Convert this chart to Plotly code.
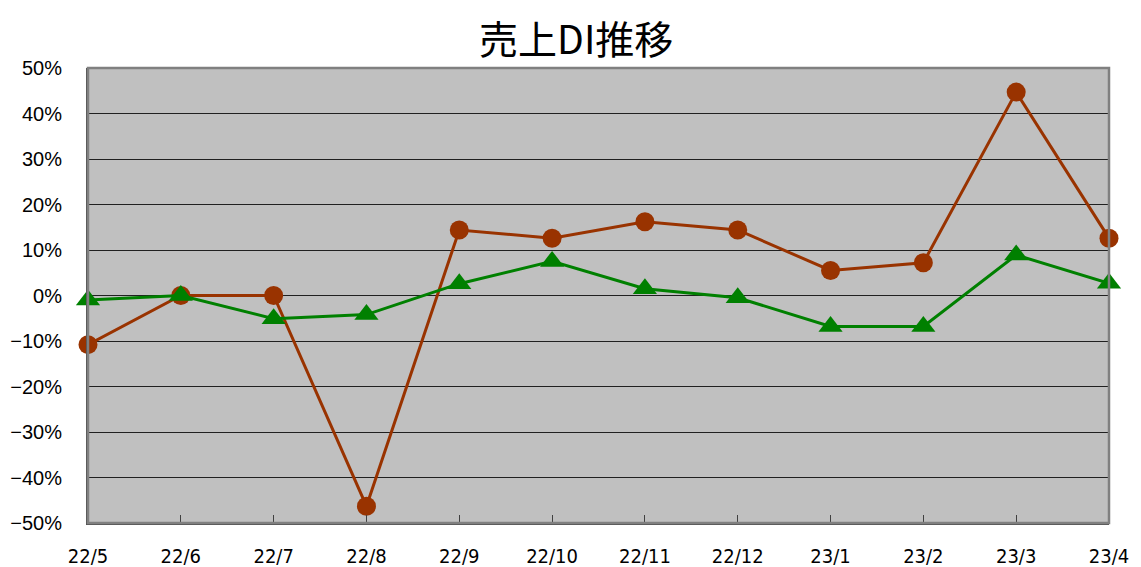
import plotly.graph_objects as go

categories = ["22/5", "22/6", "22/7", "22/8", "22/9", "22/10", "22/11", "22/12", "23/1", "23/2", "23/3", "23/4"]
series_brown = [-10.8, 0.0, 0.0, -46.3, 14.4, 12.6, 16.2, 14.4, 5.5, 7.2, 44.7, 12.6]
series_green = [-1.0, 0.0, -5.1, -4.2, 2.6, 7.5, 1.5, -0.5, -6.8, -6.8, 8.9, 2.7]
y_ticks = [-50, -40, -30, -20, -10, 0, 10, 20, 30, 40, 50]
title_text = "売上DI推移"

xpos = list(range(len(categories)))

fig = go.Figure()
fig.add_trace(go.Scatter(
    x=xpos, y=series_brown, mode="lines+markers",
    line=dict(color="#993300", width=3),
    marker=dict(symbol="circle", size=19, color="#993300"),
    showlegend=False, cliponaxis=False,
))
fig.add_trace(go.Scatter(
    x=xpos, y=series_green, mode="lines+markers",
    line=dict(color="#008000", width=3),
    marker=dict(symbol="triangle-up", size=21, color="#008000"),
    showlegend=False, cliponaxis=False,
))

fig.add_shape(type="rect", xref="paper", yref="paper", x0=0, y0=0, x1=1, y1=1,
              line=dict(color="#808080", width=2.5), layer="above")

fig.update_layout(
    width=1141, height=567,
    margin=dict(l=80, r=40, t=60, b=52, autoexpand=False),
    paper_bgcolor="white",
    plot_bgcolor="#C0C0C0",
    title=dict(text=title_text, x=0.498, xanchor="center", y=1 - 32.5 / 567, yanchor="middle",
               font=dict(family="Noto Sans CJK JP", size=39, color="black")),
    xaxis=dict(
        automargin=False,
        range=[0, len(categories) - 1],
        tickmode="array", tickvals=xpos, ticktext=categories,
        ticks="inside", ticklen=8, tickcolor="#404040", tickwidth=1,
        showgrid=False, zeroline=False,
        showline=True, linecolor="#505050", linewidth=2,
        ticklabelstandoff=14,
        tickfont=dict(family="DejaVu Sans Condensed", size=20, color="black"),
    ),
    yaxis=dict(
        automargin=False,
        range=[-50, 50],
        tickmode="array", tickvals=y_ticks, ticktext=[f"{v}%" if v >= 0 else f"\u2212{abs(v)}%" for v in y_ticks],
        ticks="", showgrid=True, gridcolor="#202020", gridwidth=1,
        zeroline=False,
        showline=True, linecolor="#505050", linewidth=2,
        ticklabelstandoff=20,
        tickfont=dict(family="Liberation Sans, Arial", size=20, color="black"),
    ),
)

fig.write_html("out.html")
